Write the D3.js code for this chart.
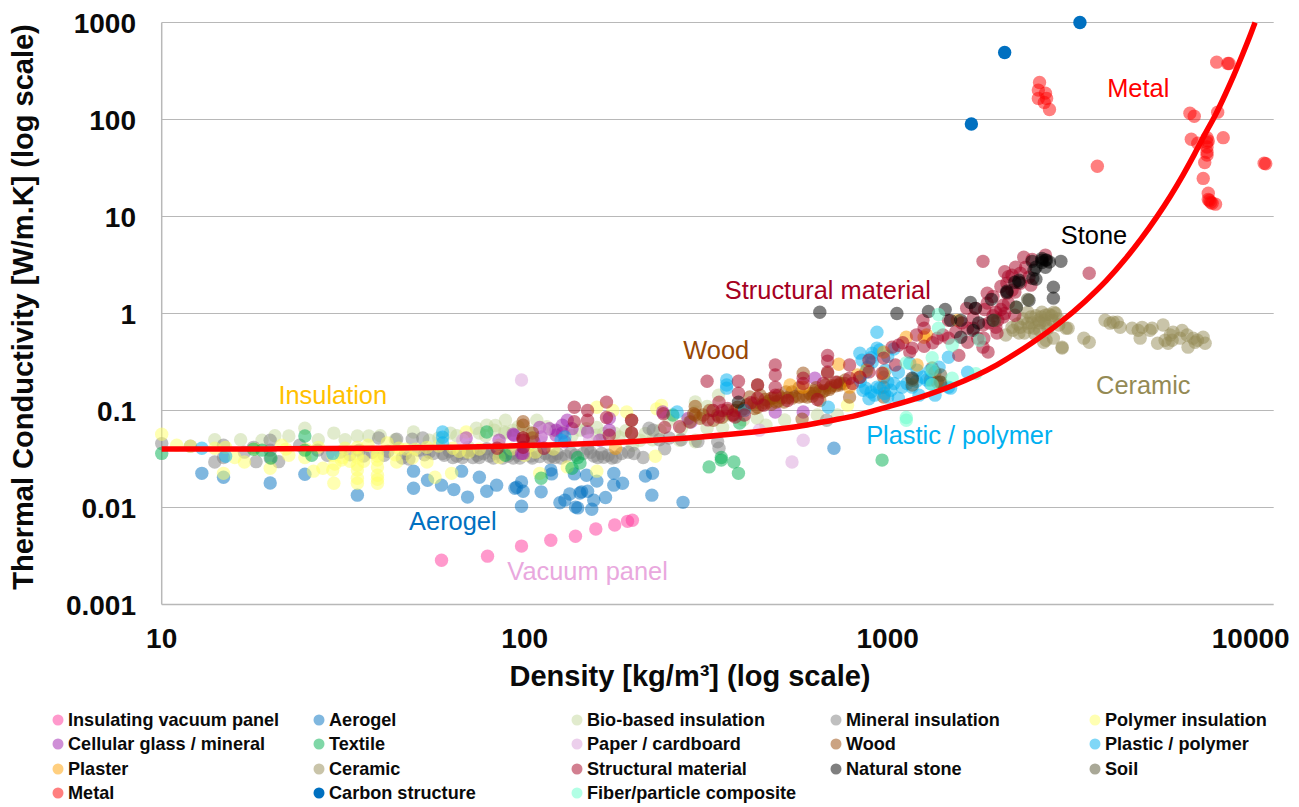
<!DOCTYPE html>
<html><head><meta charset="utf-8">
<script src="https://cdn.jsdelivr.net/npm/d3@7"></script>
<style>html,body{margin:0;padding:0;background:#fff}svg{display:block}text{font-family:"Liberation Sans",Arial,sans-serif}</style>
</head><body><svg id="c" width="1299" height="807"></svg>
<script>
const xTicks=[10,100,1000,10000];
const yTicks=[0.001,0.01,0.1,1,10,100,1000];
const yTickLabels=["0.001","0.01","0.1","1","10","100","1000"];
const categories=["Insulating vacuum panel","Aerogel","Bio-based insulation","Mineral insulation","Polymer insulation","Cellular glass / mineral","Textile","Paper / cardboard","Wood","Plastic / polymer","Plaster","Ceramic","Structural material","Natural stone","Soil","Metal","Carbon structure","Fiber/particle composite"];
const colors=["#FF3399","#0070C0","#C4D79B","#808080","#FFFF66","#A020B0","#00B050","#D9A0D9","#974706","#00B0F0","#FFA000","#948A54","#A50021","#000000","#53512F","#FF0000","#0070C0","#66FFCC"];
const vacuum=[[59,.00286],[79,.00315],[98,.004],[118,.0046],[138,.00506],[157,.006],[177,.0066],[192,.0072],[198,.0074]];
const aerogel=[[12.9,.0225],[14.8,.0205],[19.9,.0179],[24.8,.022],[34.6,.0134],[49.4,.0237],[49.4,.0158],[54,.0191],[59,.017],[63.8,.0153],[69.6,.0128],[67,.0237],[75,.0205],[78.6,.0147],[83.7,.017],[94,.0158],[98,.0183],[99,.0147],[98,.0103],[95,.0162],[111,.0145],[118,.0243],[118.6,.0222],[125,.0112],[129,.0119],[133,.0138],[137,.0222],[138,.0101],[140,.0099],[142,.0141],[143.5,.0145],[149,.0147],[148,.0215],[158,.0187],[155,.0119],[153,.0096],[167,.0127],[176,.0225],[176,.017],[186,.0178],[215,.0211],[225,.0225],[224,.0134],[273,.0113],[711,.0408]];
const bioBased=[[14,.05],[16.5,.05],[18.9,.0494],[20.5,.055],[22.4,.0545],[24.8,.0657],[27,.05],[29.8,.0585],[32,.05],[34.6,.0545],[37.2,.0545],[40,.055],[44,.05],[49.4,.06],[54.6,.0494],[58,.052],[62.4,.0585],[65,.055],[70,.0417],[73.6,.0657],[75,.0585],[78,.055],[78.6,.0705],[82.5,.0627],[83,.07],[88.5,.0794],[88.5,.0585],[88,.06],[93,.0627],[96,.068],[103,.06],[108,.0794],[115,.068],[120,.062],[128,.06],[135,.055],[142,.0627],[148,.065],[158,.067],[158,.0556],[165,.058],[177,.0585],[182,.0533],[190,.062],[198,.0439],[208,.0494],[215,.058],[225,.05],[236,.0627],[250,.0794],[267,.0494],[270,.065],[280,.08],[295,.1225],[295,.0475],[295,.0965],[295,.0494],[310,.085],[318,.11],[318,.0657],[330,.1],[342,.144],[351,.067],[365,.09],[400,.08],[437,.083],[462,.0705],[520,.08],[640,.09],[727,.09]];
const mineral=[[10,.0456],[12,.0429],[14,.0295],[14.8,.0328],[14.8,.0439],[16.9,.0372],[17.9,.0417],[18.2,.0297],[19.9,.0494],[19.9,.039],[19.9,.0323],[21,.0297],[24,.0439],[26.9,.039],[28.6,.0346],[31,.0372],[33,.035],[35,.039],[36,.034],[38,.037],[39.6,.052],[41,.0346],[42,.038],[44.4,.0507],[47,.036],[49,.0507],[52.4,.052],[46,.0323],[48,.0316],[51,.039],[53,.035],[54.6,.0372],[56,.036],[59.4,.036],[60,.0345],[62,.038],[63.4,.0328],[65,.034],[67.4,.0328],[68,.036],[70,.039],[72,.0328],[72,.038],[74,.0345],[75,.0328],[77,.036],[78.6,.0404],[80,.034],[82,.0323],[83,.036],[85,.0372],[87,.0323],[88,.037],[90,.034],[92,.036],[93,.0323],[96,.0345],[97,.0323],[100,.039],[102,.037],[104,.034],[105,.0323],[108,.037],[110,.0335],[114,.036],[117,.0328],[119,.034],[121,.0328],[123,.036],[126,.0323],[130,.034],[134,.037],[138,.0346],[145,.036],[149,.0404],[152,.037],[155,.034],[159,.0328],[163,.036],[165,.033],[170,.0346],[174,.0323],[178,.033],[185,.036],[193,.0372],[200,.036],[212,.0328],[220,.0657],[226,.0627],[235,.05],[243,.0404],[250,.052],[270,.05],[300,.048],[340,.0475],[343,.0408],[679,.0794]];
const polymer=[[10,.057],[11,.0439],[12,.0429],[14,.0408],[15,.0417],[14.8,.0225],[15.9,.0328],[16.9,.0295],[18,.04],[19.9,.0254],[21.4,.0439],[22,.04],[22.4,.0346],[24.8,.0328],[25,.04],[26.2,.0237],[27,.0417],[27.8,.0254],[29.6,.0243],[29.8,.0178],[29.6,.0346],[30,.028],[31.3,.0308],[31.5,.0328],[32,.0408],[33,.03],[34.6,.0417],[34.6,.036],[34.6,.0328],[34.6,.0273],[34.6,.0243],[34.6,.02],[34.6,.0178],[36,.03],[37,.0439],[39.3,.0361],[39.3,.034],[39.3,.0308],[39.3,.0262],[39.3,.0215],[39.3,.0195],[39.3,.0178],[41.8,.0463],[44,.035],[44.4,.0295],[45,.0408],[47,.04],[49,.0323],[50,.04],[53.8,.0295],[53.8,.0417],[56.6,.0205],[58,.043],[62.9,.0225],[63.4,.0408],[66,.038],[69,.06],[70,.0372],[75,.04],[85,.0328],[85,.0439],[92,.04],[100,.0346],[103,.043],[107,.0372],[110,.0225],[120,.04],[131,.0262],[158,.0237],[158,.108],[175,.1],[191,.0965],[229,.0338],[231,.104],[238,.113],[775,.113]];
const cellular=[[69,.052],[85,.0494],[93.4,.0556],[93,.057],[99,.0361],[98,.0361],[106,.0475],[110,.067],[111,.0533],[117,.065],[122,.0627],[122,.0556],[127,.0705],[127,.0585],[129,.0475],[131,.0794],[135,.065],[149,.06],[161,.0494],[171,.0627],[171,.083],[240,.0965],[282,.083],[287,.076],[490,.0965],[585,.0965],[630,.215]];
const textile=[[10,.0361],[17.9,.0399],[18.9,.039],[20,.0323],[24.8,.0545],[25.9,.0346],[24.8,.039],[78.6,.06],[88.5,.0346],[111,.02],[140,.0328],[142,.0288],[135,.0254],[256,.09],[322,.0262],[348,.0308],[348,.0328],[377,.0295],[388,.0225],[965,.0308],[391,.0744]];
const paper=[[98,.206],[443,.0627],[585,.0494],[545,.0295],[67.5,.0494],[114,.0627],[151,.0494]];
const wood=[[99,.0767],[99,.0705],[99,.052],[105,.0585],[105,.052],[197,.0794],[197,.0585],[295,.11],[295,.09],[285,.076],[292,.0925],[310,.09],[323,.1],[331,.0794],[340,.09],[350,.085],[304,.083],[362,.1],[373,.09],[380,.1],[386,.108],[395,.1],[403,.105],[410,.115],[428,.119],[430,.105],[438,.108],[450,.115],[460,.13],[462,.119],[470,.125],[478,.134],[485,.135],[500,.144],[500,.125],[510,.135],[518,.122],[530,.135],[545,.134],[545,.155],[555,.14],[570,.138],[585,.14],[600,.138],[610,.15],[620,.14],[625,.151],[630,.16],[650,.16],[660,.155],[670,.16],[690,.165],[695,.172],[700,.18],[720,.18],[727,.196],[740,.19],[760,.19],[765,.206],[585,.242],[785,.138],[581,.0815],[438,.183],[683,.242],[838,.22],[1326,.274],[1370,.196],[1350,.248],[1395,.196],[1310,.206],[975,.174],[975,.22],[975,.138],[478,.116],[525,.155],[570,.172],[635,.172],[675,.183],[738,.183],[650,.127],[445,.144],[417,.138],[493,.122]];
const plastic=[[12.9,.0408],[15,.0338],[29.6,.0361],[59.4,.06],[59.4,.053],[59.4,.0463],[129,.0533],[126,.0494],[263,.0965],[360,.206],[360,.183],[360,.17],[403,.1],[686,.108],[934,.64],[838,.39],[906,.39],[934,.44],[906,.315],[840,.2],[850,.33],[855,.162],[870,.17],[880,.28],[888,.132],[900,.155],[900,.35],[934,.174],[950,.17],[980,.15],[1000,.196],[1000,.138],[1000,.36],[1040,.19],[1040,.43],[1070,.134],[1020,.162],[1096,.174],[1130,.19],[1168,.174],[1200,.2],[1205,.26],[1250,.22],[1310,.19],[1470,.354],[1660,.248],[1470,.174],[1385,.28],[1280,.206],[1490,.17],[1150,.307],[1070,.248],[950,.42],[870,.248],[985,.26],[920,.144],[1220,.144],[1350,.144],[1310,.26]];
const plaster=[[178,.0408],[538,.183],[585,.174],[733,.3],[785,.174],[825,.232],[975,.4],[875,.26],[975,.242],[1125,.57],[1205,.294],[1260,.57],[1280,.6],[1555,.85]];
const ceramic=[[3970,.853],[4100,.795],[4180,.813],[4290,.813],[4370,.72],[4713,.706],[4900,.67],[4960,.557],[5021,.72],[5280,.67],[5350,.706],[5735,.76],[5540,.494],[5810,.53],[6110,.64],[6074,.53],[6390,.557],[6472,.67],[6680,.6],[6940,.557],[6720,.45],[7395,.57],[7490,.494],[7030,.506],[7130,.53],[5920,.494],[6000,.6],[3470,.557],[3590,.506],[3023,.44],[3100,.706],[2860,.557],[2690,.506],[2215,.67],[2320,.72],[2430,.795],[2530,.706],[2600,.85],[2720,.96],[2870,1.03],[2840,.85],[2660,1.03],[2430,1.03],[2480,.92],[2380,.63],[2115,.6],[2730,.53],[3023,.45],[3140,.706],[2960,.76],[2620,.67],[2720,.795],[2280,.78],[2360,.88],[2500,.8],[2560,.95],[2650,.92],[2700,.85],[2780,.98],[2830,.95],[2900,1.0],[2950,.88],[2450,.72],[2300,.63],[2540,.62],[2760,.7],[2620,.8],[2200,.72]];
const structural=[[84,.0408],[99,.052],[99,.0494],[99,.0417],[113,.0408],[137,.108],[137,.0767],[149,.1],[149,.0794],[168,.122],[168,.0848],[171,.0556],[197,.0794],[197,.0585],[241,.0925],[243,.067],[267,.068],[318,.2],[320,.08],[330,.1],[350,.1],[388,.2],[388,.151],[343,.122],[343,.0856],[380,.0856],[362,.105],[420,.12],[438,.183],[438,.134],[490,.294],[490,.232],[490,.174],[490,.144],[530,.127],[585,.215],[585,.19],[640,.13],[683,.37],[683,.323],[683,.25],[665,.19],[720,.196],[785,.294],[785,.215],[800,.19],[838,.22],[888,.33],[888,.25],[975,.347],[965,.242],[455,.113],[403,.09],[376,.09],[1100,.5],[1150,.4],[1200,.6],[1250,.85],[1260,.706],[1260,.46],[1028,.45],[1070,.47],[1168,.44],[1050,.294],[1330,.5],[1370,.557],[1420,.6],[1470,.557],[1540,.65],[1570,.37],[1600,.8],[1660,.506],[1720,.9],[1890,.4],[1660,.706],[1770,.557],[1840,.557],[1650,1.13],[1745,1.13],[1850,1.1],[1880,1.62],[1880,1.28],[1900,.8],[1950,.95],[1950,1.5],[1985,1.03],[2010,.85],[2050,1.1],[2050,1.9],[2080,.92],[2100,1.0],[2100,2.7],[2130,2.05],[2130,1.62],[2150,1.28],[2150,2.4],[2240,.96],[2201,2.48],[2250,3.0],[2320,2.6],[2320,2.05],[2370,3.8],[2400,3.0],[2450,2.37],[2500,3.6],[1830,3.45],[2720,4.0],[2000,.63],[1985,.72],[1830,.76],[1470,.85],[1720,.706],[1830,.45],[3590,2.6],[2480,1.96],[2240,1.66],[2080,1.22],[2200,1.74]];
const stone=[[650,1.03],[388,.122],[1060,1.0],[1295,1.05],[1440,1.1],[1490,.85],[1590,.85],[1590,.57],[1720,.67],[1690,1.3],[1745,1.13],[1930,1.4],[1950,.85],[2130,1.7],[2260,1.16],[2300,2.2],[2450,1.37],[2560,2.26],[2500,3.45],[2660,3.55],[2720,3.55],[2790,3.4],[3000,3.45],[2860,1.87],[2860,1.44],[2720,3.0],[2530,2.8],[2740,3.55],[2660,3.7],[2510,2.3],[2300,2.1],[2130,1.65],[2560,3.0],[2240,2.1],[2660,3.35],[1780,.8],[1168,.215]];
const soil=[[1168,.206],[1168,.183],[1400,.196],[1400,.232],[1970,.85],[2430,1.4],[2260,1.16]];
const metal=[[2620,241],[2600,201],[2720,187],[2600,165],[2740,165],[2700,150],[2790,127],[8060,390],[8650,378],[8720,378],[6800,116],[6990,108],[8110,119],[6860,62.5],[8400,65],[7580,65],[7640,60],[7150,57],[7580,58],[7580,52],[7580,46],[7580,43],[7470,36],[7400,24.7],[7640,17.4],[7640,15],[7700,14.6],[7760,14],[7830,13.7],[8000,13.4],[3780,33],[10890,35.4],[11000,35]];
const carbon=[[3385,1000],[2100,490],[1700,90]];
const fiber=[[1125,.0794],[1125,.0848],[1380,.975],[1380,.706],[1790,.53],[1505,.47],[1125,.31],[1326,.35],[1326,.26],[1326,.185],[1505,.215],[1750,.24]];
const trendRho=[10,20,40,70,100,200,300,400,500,600,700,800,1000,1250,1500,2000,2500,3000,3500,4000,4500,5000,5500,6000,6500,7000,7500,8000,8500,9000,9500,10000,10280];
const trendK=[.04,.0402,.0408,.042,.0435,.048,.053,.0585,.0645,.071,.079,.087,.109,.14,.179,.296,.5,.82,1.34,2.18,3.6,5.95,9.8,16.1,26.6,44,72,112,180,290,470,760,1000];
const allSeries=[vacuum,aerogel,bioBased,mineral,polymer,cellular,textile,paper,wood,plastic,plaster,ceramic,structural,stone,soil,metal,carbon,fiber];

const svg=d3.select("#c");
const x=d3.scaleLog().domain([10,11570]).range([161.7,1273.7]);
const y=d3.scaleLog().domain([.001,1000]).range([604.5,22.5]);
const axisCol="#b8b8b8";
svg.append("g").selectAll("line").data(yTicks.slice(1)).join("line")
 .attr("x1",x.range()[0]).attr("x2",x.range()[1]).attr("y1",d=>y(d)).attr("y2",d=>y(d))
 .attr("stroke",axisCol).attr("stroke-width",1.2);
svg.append("line").attr("x1",x.range()[0]).attr("x2",x.range()[0]).attr("y1",y.range()[1]).attr("y2",y.range()[0]).attr("stroke",axisCol).attr("stroke-width",1.5);
svg.append("line").attr("x1",x.range()[0]).attr("x2",x.range()[1]).attr("y1",y.range()[0]).attr("y2",y.range()[0]).attr("stroke",axisCol).attr("stroke-width",1.5);
svg.append("g").selectAll("text").data(yTicks).join("text").attr("x",136).attr("y",d=>y(d)+10)
 .attr("text-anchor","end").attr("font-size",28).attr("font-weight","bold").attr("fill","#0a0a0a").text((d,i)=>yTickLabels[i]);
svg.append("g").selectAll("text").data(xTicks).join("text").attr("x",d=>x(d)).attr("y",648)
 .attr("text-anchor","middle").attr("font-size",28).attr("font-weight","bold").attr("fill","#0a0a0a").text(d=>d);
svg.append("text").attr("x",690).attr("y",686).attr("text-anchor","middle").attr("font-size",29).attr("font-weight","bold").attr("fill","#0a0a0a").text("Density [kg/m³] (log scale)");
svg.append("text").attr("transform","translate(33,307) rotate(-90)").attr("text-anchor","middle").attr("font-size",29).attr("font-weight","bold").attr("fill","#0a0a0a").text("Thermal Conductivity [W/m.K] (log scale)");

allSeries.forEach((s,i)=>{
 svg.append("g").selectAll("circle").data(s).join("circle")
  .attr("cx",d=>x(d[0])).attr("cy",d=>y(d[1])).attr("r",6.7)
  .attr("fill",colors[i]).attr("fill-opacity",i===16?1:0.5);
});
const line=d3.line().x(d=>x(d[0])).y(d=>y(d[1])).curve(d3.curveMonotoneX);
svg.append("path").attr("d",line(trendRho.map((r,i)=>[r,trendK[i]]))).attr("fill","none").attr("stroke","#ff0000").attr("stroke-width",5.5);

const labelTexts=["Insulation","Aerogel","Vacuum panel","Plastic / polymer","Wood","Structural material","Stone","Metal","Ceramic"];
const labelColors=["#FFC000","#0070C0","#E9A8DE","#00B0F0","#974706","#A50021","#000000","#FF0000","#948A54"];
const labelRho=[29.6,63.4,149,1575,337,684,3700,4900,5060];
const labelK=[.116,.00583,.00178,.045,.338,1.4,5.18,170,.147];
svg.append("g").selectAll("text").data(labelTexts).join("text")
 .attr("x",(d,i)=>x(labelRho[i])).attr("y",(d,i)=>y(labelK[i])).attr("text-anchor","middle").attr("font-size",25.4)
 .attr("fill",(d,i)=>labelColors[i]).text(d=>d);

const legendCols=5;
const legendX=[58,319,577,836,1095];
const legendY=[720,744,769,793];
const lg=svg.append("g").selectAll("g").data(categories).join("g")
 .attr("transform",(d,i)=>`translate(${legendX[i%legendCols]},${legendY[Math.floor(i/legendCols)]})`);
lg.append("circle").attr("r",5.5).attr("fill",(d,i)=>colors[i]).attr("fill-opacity",(d,i)=>i===16?1:0.5);
lg.append("text").attr("x",10).attr("y",6).attr("font-size",18.1).attr("font-weight","bold").attr("fill","#0a0a0a").text(d=>d);
</script></body></html>
